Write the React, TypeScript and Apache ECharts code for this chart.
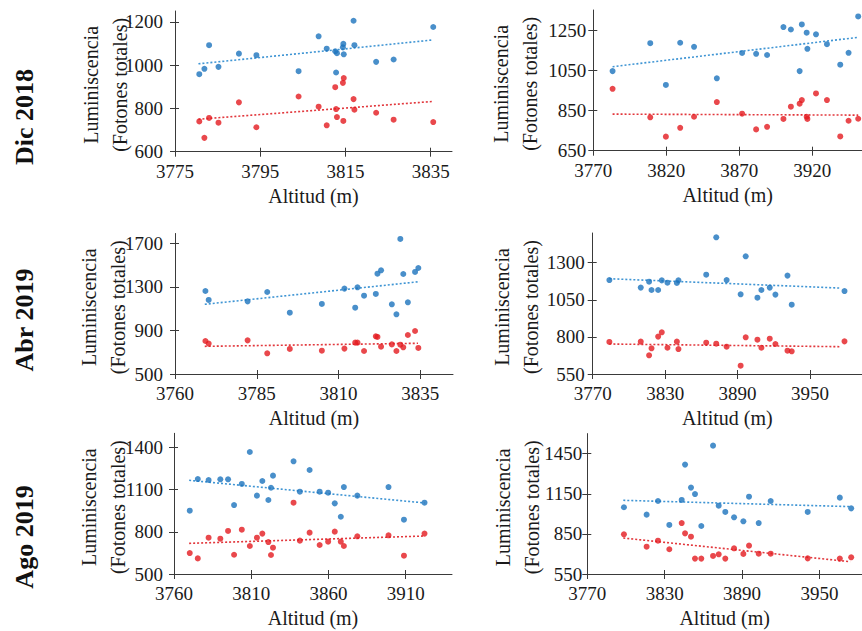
import React, { useEffect, useRef } from "react";
import * as echarts from "echarts";

// ---------- DATA ----------
const rowLabels = ["Dic 2018", "Abr 2019", "Ago 2019"];
const xName = "Altitud (m)";
const yName = "Luminiscencia\n(Fotones totales)";

// Panel 1: Dic 2018 (left)
const alt1 = [3780.7, 3781.9, 3783, 3785.2, 3790, 3794.1, 3804, 3808.7, 3810.6, 3812.6, 3812.8, 3813, 3814.4, 3814.5, 3814.6, 3816.9, 3817.1, 3822.2, 3826.3, 3835.6];
const blue1 = [958, 983, 1092, 992, 1053, 1046, 972, 1133, 1076, 1064, 966, 1055, 1082, 1098, 1050, 1205, 1092, 1015, 1026, 1176];
const red1 = [740, 664, 756, 734, 828, 713, 855, 808, 722, 898, 797, 760, 918, 742, 940, 843, 794, 780, 748, 737];
const trendBlue1 = [[3780.5, 1006], [3835.4, 1116]];
const trendRed1 = [[3780.5, 750], [3835.4, 832]];
const xTicks1 = [3775, 3795, 3815, 3835];
const yTicks1 = [600, 800, 1000, 1200];

// Panel 2: Dic 2018 (right)
const alt2 = [3783.2, 3809, 3819.7, 3829.5, 3839, 3854.6, 3871.9, 3881.5, 3889, 3900.2, 3905.3, 3911.3, 3912.8, 3916.1, 3916.6, 3922.5, 3930, 3939.1, 3944.8, 3951.4];
const blue2 = [1046, 1185, 977, 1187, 1167, 1010, 1136, 1132, 1126, 1265, 1253, 1046, 1278, 1237, 1157, 1229, 1180, 1078, 1137, 1318];
const red2 = [958, 816, 720, 764, 819, 892, 834, 756, 769, 808, 869, 884, 902, 819, 808, 935, 902, 721, 799, 809];
const trendBlue2 = [[3783.2, 1068], [3951.4, 1214]];
const trendRed2 = [[3783.2, 832], [3951.4, 827]];
const xTicks2 = [3770, 3820, 3870, 3920];
const yTicks2 = [650, 850, 1050, 1250];

// Panel 3: Abr 2019 (left)
const alt3 = [3769.3, 3770.3, 3782.2, 3788.2, 3795.1, 3804.9, 3811.8, 3815.1, 3815.8, 3817.8, 3821.4, 3821.9, 3823, 3826.3, 3827.7, 3828.9, 3829.8, 3831.2, 3833.4, 3834.4];
const blue3 = [1262, 1180, 1167, 1253, 1063, 1143, 1284, 1109, 1296, 1219, 1235, 1421, 1452, 1140, 1048, 1740, 1418, 1158, 1437, 1473];
const red3 = [803, 779, 809, 690, 730, 714, 733, 788, 788, 711, 846, 840, 751, 772, 711, 769, 745, 858, 895, 739];
const trendBlue3 = [[3769.1, 1140], [3834.8, 1348]];
const trendRed3 = [[3769.1, 754], [3834.3, 782]];
const xTicks3 = [3760, 3785, 3810, 3835];
const yTicks3 = [500, 900, 1300, 1700];

// Panel 4: Abr 2019 (right)
const alt4 = [3783.8, 3809.8, 3816.7, 3818.7, 3824.2, 3827.2, 3831.9, 3839.7, 3841, 3864, 3872.3, 3880.9, 3892.5, 3896.7, 3906.4, 3909.7, 3916.6, 3921.3, 3931.3, 3934.8, 3978.5];
const blue4 = [1183, 1132, 1172, 1116, 1116, 1181, 1165, 1163, 1181, 1219, 1471, 1183, 1087, 1343, 1064, 1116, 1132, 1085, 1213, 1017, 1109];
const red4 = [766, 768, 676, 723, 802, 831, 727, 768, 718, 761, 754, 734, 606, 797, 781, 727, 788, 752, 707, 703, 770];
const trendBlue4 = [[3783.8, 1192], [3975.1, 1129]];
const trendRed4 = [[3783.8, 752], [3975.1, 734]];
const xTicks4 = [3770, 3830, 3890, 3950];
const yTicks4 = [550, 800, 1050, 1300];

// Panel 5: Ago 2019 (left)
const alt5 = [3770.2, 3775.4, 3782.4, 3790, 3795, 3798.9, 3803.9, 3809.1, 3813.7, 3817.2, 3821.1, 3822.8, 3824.1, 3837.4, 3841.5, 3847.8, 3854.3, 3859.8, 3864.1, 3868, 3870, 3878.7, 3898.9, 3908.9, 3922.2];
const blue5 = [950, 1175, 1168, 1173, 1173, 990, 1140, 1367, 1057, 1161, 1026, 1113, 1199, 1301, 1085, 1239, 1085, 1078, 1002, 907, 1118, 1057, 1118, 886, 1007];
const red5 = [649, 611, 758, 751, 806, 637, 815, 699, 758, 787, 727, 635, 687, 1007, 737, 794, 706, 730, 801, 730, 699, 768, 775, 630, 787];
const trendBlue5 = [[3769.8, 1166], [3922.2, 1005]];
const trendRed5 = [[3769.8, 718], [3922.2, 770]];
const xTicks5 = [3760, 3810, 3860, 3910];
const yTicks5 = [500, 800, 1100, 1400];

// Panel 6: Ago 2019 (right)
const alt6 = [3798.4, 3816, 3824.8, 3833.6, 3843.2, 3845.8, 3850.4, 3853.5, 3858.4, 3867.5, 3871.9, 3877, 3883.8, 3891, 3895.4, 3902.9, 3912.2, 3940.9, 3965.8, 3974.6];
const blue6 = [1049, 994, 1096, 917, 1104, 1368, 1196, 1148, 909, 1510, 1061, 1014, 974, 944, 1128, 931, 1096, 1014, 1121, 1041];
const red6 = [847, 754, 799, 735, 931, 854, 829, 665, 665, 685, 697, 665, 742, 700, 762, 702, 702, 667, 665, 675];
const trendBlue6 = [[3797.9, 1101], [3973.8, 1054]];
const trendRed6 = [[3797.9, 819], [3973.8, 642]];
const xTicks6 = [3770, 3830, 3890, 3950];
const yTicks6 = [550, 850, 1150, 1450];

// axis extents
const xRanges = [[3775, 3840], [3770, 3954], [3760, 3845], [3770, 3993], [3760, 3940], [3770, 3983]];
const yRanges = [[600, 1250], [650, 1350], [500, 1790], [550, 1500], [500, 1500], [550, 1600]];

// ---------- LAYOUT / STYLE ----------
const grids = [
  { left: 175, top: 11, width: 277, height: 140.7 },
  { left: 593.3, top: 10, width: 268.7, height: 140.7 },
  { left: 175, top: 233.5, width: 278, height: 140.5 },
  { left: 592.7, top: 233, width: 269.3, height: 141 },
  { left: 174, top: 433.3, width: 278, height: 140.7 },
  { left: 587.3, top: 433.6, width: 274.7, height: 140.4 },
];
const yLabelMargins = [12, 7, 12, 8, 11, 5];
const yNameGaps = [40.5, 48.5, 43, 47.5, 42, 41];
const rowLabelPos = [117, 320, 537];

const FONT = "Liberation Serif";
const AXIS_COLOR = "#3a3a3a";
const TEXT_COLOR = "#1a1a1a";
const BLUE = "#1b73bd";
const RED = "#e41a1f";
const BLUE_TREND = "#3f95d4";
const RED_TREND = "#e2373c";

const panels = [
  { alt: alt1, blue: blue1, red: red1, tb: trendBlue1, tr: trendRed1, xt: xTicks1, yt: yTicks1 },
  { alt: alt2, blue: blue2, red: red2, tb: trendBlue2, tr: trendRed2, xt: xTicks2, yt: yTicks2 },
  { alt: alt3, blue: blue3, red: red3, tb: trendBlue3, tr: trendRed3, xt: xTicks3, yt: yTicks3 },
  { alt: alt4, blue: blue4, red: red4, tb: trendBlue4, tr: trendRed4, xt: xTicks4, yt: yTicks4 },
  { alt: alt5, blue: blue5, red: red5, tb: trendBlue5, tr: trendRed5, xt: xTicks5, yt: yTicks5 },
  { alt: alt6, blue: blue6, red: red6, tb: trendBlue6, tr: trendRed6, xt: xTicks6, yt: yTicks6 },
];

const plain = (v: number) => String(v);

function buildOption() {
  const xAxis: any[] = [];
  const yAxis: any[] = [];
  const series: any[] = [];
  const lineStyle = { color: AXIS_COLOR, width: 1 };

  panels.forEach((p, i) => {
    xAxis.push({
      type: "value",
      gridIndex: i,
      min: xRanges[i][0],
      max: xRanges[i][1],
      position: "bottom",
      axisLine: { show: true, onZero: false, lineStyle },
      axisTick: { show: true, inside: false, length: 5, lineStyle, customValues: p.xt },
      axisLabel: {
        fontFamily: FONT,
        fontSize: 19,
        color: TEXT_COLOR,
        margin: 10,
        customValues: p.xt,
        formatter: plain,
      },
      splitLine: { show: false },
      name: xName,
      nameLocation: "middle",
      nameGap: 34,
      nameTextStyle: { fontFamily: FONT, fontSize: 20, color: TEXT_COLOR },
    });
    yAxis.push({
      type: "value",
      gridIndex: i,
      min: yRanges[i][0],
      max: yRanges[i][1],
      position: "left",
      axisLine: { show: true, onZero: false, lineStyle },
      axisTick: { show: true, inside: false, length: 5, lineStyle, customValues: p.yt },
      axisLabel: {
        fontFamily: FONT,
        fontSize: 19,
        color: TEXT_COLOR,
        margin: yLabelMargins[i],
        customValues: p.yt,
        formatter: plain,
      },
      splitLine: { show: false },
      name: yName,
      nameLocation: "middle",
      nameRotate: 90,
      nameGap: yNameGaps[i],
      nameMoveOverlap: false,
      nameTextStyle: {
        fontFamily: FONT,
        fontSize: 20,
        lineHeight: 29,
        color: TEXT_COLOR,
        padding: [0, 7, 0, 0],
      },
    });
  });
  // duplicate axes to draw inward half of crossing ticks
  panels.forEach((p, i) => {
    xAxis.push({
      type: "value",
      gridIndex: i,
      min: xRanges[i][0],
      max: xRanges[i][1],
      position: "bottom",
      axisLine: { show: false, onZero: false },
      axisTick: { show: true, inside: true, length: 4, lineStyle, customValues: p.xt },
      axisLabel: { show: false },
      splitLine: { show: false },
    });
    yAxis.push({
      type: "value",
      gridIndex: i,
      min: yRanges[i][0],
      max: yRanges[i][1],
      position: "left",
      axisLine: { show: false, onZero: false },
      axisTick: { show: true, inside: true, length: 4, lineStyle, customValues: p.yt },
      axisLabel: { show: false },
      splitLine: { show: false },
    });
  });

  panels.forEach((p, i) => {
    series.push({
      type: "line",
      xAxisIndex: i,
      yAxisIndex: i,
      data: p.tb,
      symbol: "none",
      lineStyle: { color: BLUE_TREND, width: 1.6, type: [2, 2] },
      z: 1,
    });
    series.push({
      type: "line",
      xAxisIndex: i,
      yAxisIndex: i,
      data: p.tr,
      symbol: "none",
      lineStyle: { color: RED_TREND, width: 1.6, type: [2, 2] },
      z: 1,
    });
    series.push({
      type: "scatter",
      xAxisIndex: i,
      yAxisIndex: i,
      data: p.alt.map((a, k) => [a, p.blue[k]]),
      symbolSize: 6,
      itemStyle: { color: BLUE },
      z: 2,
    });
    series.push({
      type: "scatter",
      xAxisIndex: i,
      yAxisIndex: i,
      data: p.alt.map((a, k) => [a, p.red[k]]),
      symbolSize: 6,
      itemStyle: { color: RED },
      z: 2,
    });
  });

  const graphic = rowLabels.map((t, r) => ({
    type: "text",
    x: 24,
    y: rowLabelPos[r],
    rotation: Math.PI / 2,
    style: {
      text: t,
      fontFamily: FONT,
      fontSize: 26,
      fontWeight: "bold",
      fill: "#111",
      align: "center",
      verticalAlign: "middle",
    },
  }));

  return {
    animation: false,
    backgroundColor: "#ffffff",
    textStyle: { fontFamily: FONT },
    grid: grids.map((g) => ({ ...g, containLabel: false })),
    xAxis,
    yAxis,
    series,
    graphic,
  };
}

export default function App() {
  const ref = useRef<HTMLDivElement>(null);
  useEffect(() => {
    document.body.style.margin = "0";
    if (!ref.current) return;
    const chart = echarts.init(ref.current, undefined, { renderer: "svg" });
    chart.setOption(buildOption() as any);
    return () => chart.dispose();
  }, []);
  return <div ref={ref} style={{ width: 862, height: 631 }} />;
}
